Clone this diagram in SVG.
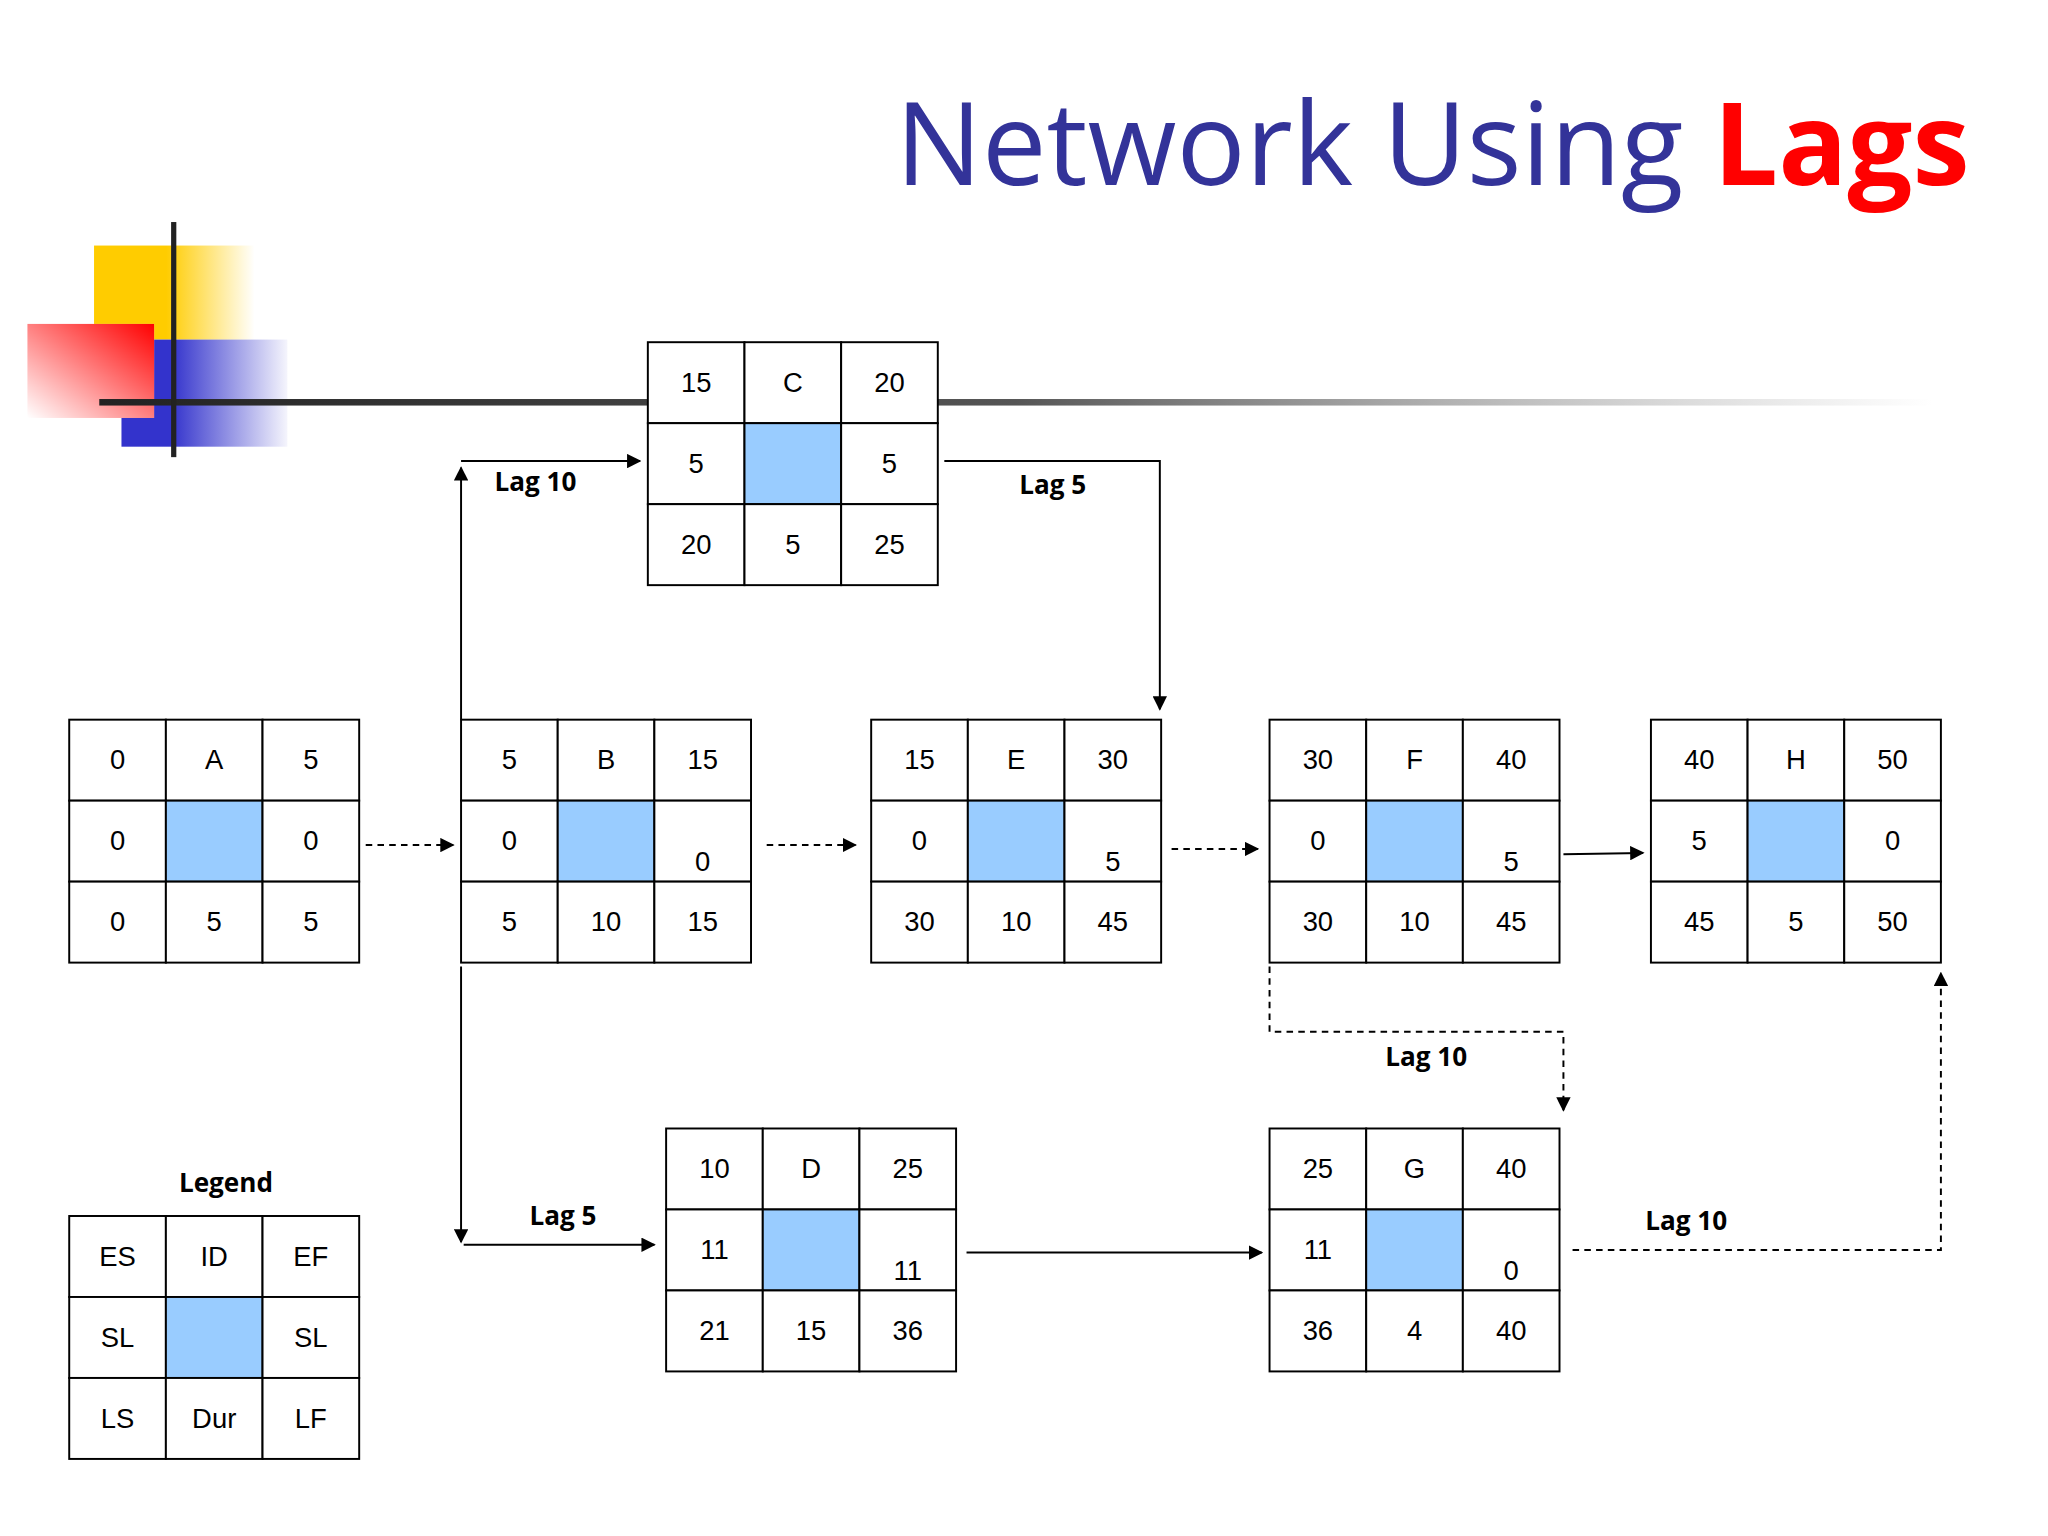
<svg xmlns="http://www.w3.org/2000/svg" width="2048" height="1536" viewBox="0 0 2048 1536">
<style>
.c{fill:#fff;stroke:#000;stroke-width:1.5}
.m{fill:#99ccff;stroke:#000;stroke-width:1.5}
.t{font-family:"Liberation Sans",Arial,sans-serif;font-size:21px;text-anchor:middle;fill:#000}
.l{font-family:"Open Sans","Noto Sans",sans-serif;font-size:20px;font-weight:bold;text-anchor:middle;fill:#000}
.s{fill:none;stroke:#000;stroke-width:1.5}
.d{fill:none;stroke:#000;stroke-width:1.5;stroke-dasharray:5,4}
</style>
<defs>
<marker id="ar" viewBox="0 0 10 10" refX="9" refY="5" markerWidth="11" markerHeight="11" markerUnits="userSpaceOnUse" orient="auto"><path d="M0,0L10,5L0,10z" fill="#000"/></marker>
<linearGradient id="gy" x1="0" x2="1"><stop offset="0.45" stop-color="#ffcc00"/><stop offset="1" stop-color="#ffcc00" stop-opacity="0"/></linearGradient>
<linearGradient id="gb" x1="0" x2="1"><stop offset="0.3" stop-color="#3333cc"/><stop offset="1" stop-color="#3333cc" stop-opacity="0.05"/></linearGradient>
<linearGradient id="gr" x1="1" y1="0" x2="0" y2="1"><stop offset="0" stop-color="#ff0000"/><stop offset="1" stop-color="#ff0000" stop-opacity="0"/></linearGradient>
<linearGradient id="gl" x1="0" x2="1"><stop offset="0" stop-color="#222"/><stop offset="0.5" stop-color="#555"/><stop offset="1" stop-color="#888" stop-opacity="0"/></linearGradient>
</defs>
<rect width="2048" height="1536" fill="#fff"/>
<g transform="scale(1.30612)">
<g id="decor">
<rect x="72" y="188" width="123" height="72" fill="url(#gy)"/>
<rect x="93" y="260" width="127" height="82" fill="url(#gb)"/>
<rect x="21" y="248" width="97" height="72" fill="#fff"/>
<rect x="21" y="248" width="97" height="72" fill="url(#gr)"/>
<rect x="76" y="305.5" width="1404" height="5" fill="url(#gl)"/>
<rect x="131" y="170" width="4" height="180" fill="#222"/>
</g>
<g id="title" font-family="'Open Sans','Noto Sans',sans-serif" font-size="88">
<text x="1508" y="142" text-anchor="end"><tspan fill="#333399">Network Using </tspan><tspan fill="#ff0000" font-weight="bold">Lags</tspan></text>
</g>
<g id="nodeC" transform="translate(496,262)">
<rect class="c" x="0" y="0" width="74" height="62"/><rect class="c" x="74" y="0" width="74" height="62"/><rect class="c" x="148" y="0" width="74" height="62"/>
<rect class="c" x="0" y="62" width="74" height="62"/><rect class="m" x="74" y="62" width="74" height="62"/><rect class="c" x="148" y="62" width="74" height="62"/>
<rect class="c" x="0" y="124" width="74" height="62"/><rect class="c" x="74" y="124" width="74" height="62"/><rect class="c" x="148" y="124" width="74" height="62"/>
<text class="t" x="37" y="38">15</text><text class="t" x="111" y="38">C</text><text class="t" x="185" y="38">20</text>
<text class="t" x="37" y="100">5</text><text class="t" x="185" y="100">5</text>
<text class="t" x="37" y="162">20</text><text class="t" x="111" y="162">5</text><text class="t" x="185" y="162">25</text>
</g>
<g id="nodeA" transform="translate(53,551)">
<rect class="c" x="0" y="0" width="74" height="62"/><rect class="c" x="74" y="0" width="74" height="62"/><rect class="c" x="148" y="0" width="74" height="62"/>
<rect class="c" x="0" y="62" width="74" height="62"/><rect class="m" x="74" y="62" width="74" height="62"/><rect class="c" x="148" y="62" width="74" height="62"/>
<rect class="c" x="0" y="124" width="74" height="62"/><rect class="c" x="74" y="124" width="74" height="62"/><rect class="c" x="148" y="124" width="74" height="62"/>
<text class="t" x="37" y="38">0</text><text class="t" x="111" y="38">A</text><text class="t" x="185" y="38">5</text>
<text class="t" x="37" y="100">0</text><text class="t" x="185" y="100">0</text>
<text class="t" x="37" y="162">0</text><text class="t" x="111" y="162">5</text><text class="t" x="185" y="162">5</text>
</g>
<g id="nodeB" transform="translate(353,551)">
<rect class="c" x="0" y="0" width="74" height="62"/><rect class="c" x="74" y="0" width="74" height="62"/><rect class="c" x="148" y="0" width="74" height="62"/>
<rect class="c" x="0" y="62" width="74" height="62"/><rect class="m" x="74" y="62" width="74" height="62"/><rect class="c" x="148" y="62" width="74" height="62"/>
<rect class="c" x="0" y="124" width="74" height="62"/><rect class="c" x="74" y="124" width="74" height="62"/><rect class="c" x="148" y="124" width="74" height="62"/>
<text class="t" x="37" y="38">5</text><text class="t" x="111" y="38">B</text><text class="t" x="185" y="38">15</text>
<text class="t" x="37" y="100">0</text><text class="t" x="185" y="116">0</text>
<text class="t" x="37" y="162">5</text><text class="t" x="111" y="162">10</text><text class="t" x="185" y="162">15</text>
</g>
<g id="nodeE" transform="translate(667,551)">
<rect class="c" x="0" y="0" width="74" height="62"/><rect class="c" x="74" y="0" width="74" height="62"/><rect class="c" x="148" y="0" width="74" height="62"/>
<rect class="c" x="0" y="62" width="74" height="62"/><rect class="m" x="74" y="62" width="74" height="62"/><rect class="c" x="148" y="62" width="74" height="62"/>
<rect class="c" x="0" y="124" width="74" height="62"/><rect class="c" x="74" y="124" width="74" height="62"/><rect class="c" x="148" y="124" width="74" height="62"/>
<text class="t" x="37" y="38">15</text><text class="t" x="111" y="38">E</text><text class="t" x="185" y="38">30</text>
<text class="t" x="37" y="100">0</text><text class="t" x="185" y="116">5</text>
<text class="t" x="37" y="162">30</text><text class="t" x="111" y="162">10</text><text class="t" x="185" y="162">45</text>
</g>
<g id="nodeF" transform="translate(972,551)">
<rect class="c" x="0" y="0" width="74" height="62"/><rect class="c" x="74" y="0" width="74" height="62"/><rect class="c" x="148" y="0" width="74" height="62"/>
<rect class="c" x="0" y="62" width="74" height="62"/><rect class="m" x="74" y="62" width="74" height="62"/><rect class="c" x="148" y="62" width="74" height="62"/>
<rect class="c" x="0" y="124" width="74" height="62"/><rect class="c" x="74" y="124" width="74" height="62"/><rect class="c" x="148" y="124" width="74" height="62"/>
<text class="t" x="37" y="38">30</text><text class="t" x="111" y="38">F</text><text class="t" x="185" y="38">40</text>
<text class="t" x="37" y="100">0</text><text class="t" x="185" y="116">5</text>
<text class="t" x="37" y="162">30</text><text class="t" x="111" y="162">10</text><text class="t" x="185" y="162">45</text>
</g>
<g id="nodeH" transform="translate(1264,551)">
<rect class="c" x="0" y="0" width="74" height="62"/><rect class="c" x="74" y="0" width="74" height="62"/><rect class="c" x="148" y="0" width="74" height="62"/>
<rect class="c" x="0" y="62" width="74" height="62"/><rect class="m" x="74" y="62" width="74" height="62"/><rect class="c" x="148" y="62" width="74" height="62"/>
<rect class="c" x="0" y="124" width="74" height="62"/><rect class="c" x="74" y="124" width="74" height="62"/><rect class="c" x="148" y="124" width="74" height="62"/>
<text class="t" x="37" y="38">40</text><text class="t" x="111" y="38">H</text><text class="t" x="185" y="38">50</text>
<text class="t" x="37" y="100">5</text><text class="t" x="185" y="100">0</text>
<text class="t" x="37" y="162">45</text><text class="t" x="111" y="162">5</text><text class="t" x="185" y="162">50</text>
</g>
<g id="nodeD" transform="translate(510,864)">
<rect class="c" x="0" y="0" width="74" height="62"/><rect class="c" x="74" y="0" width="74" height="62"/><rect class="c" x="148" y="0" width="74" height="62"/>
<rect class="c" x="0" y="62" width="74" height="62"/><rect class="m" x="74" y="62" width="74" height="62"/><rect class="c" x="148" y="62" width="74" height="62"/>
<rect class="c" x="0" y="124" width="74" height="62"/><rect class="c" x="74" y="124" width="74" height="62"/><rect class="c" x="148" y="124" width="74" height="62"/>
<text class="t" x="37" y="38">10</text><text class="t" x="111" y="38">D</text><text class="t" x="185" y="38">25</text>
<text class="t" x="37" y="100">11</text><text class="t" x="185" y="116">11</text>
<text class="t" x="37" y="162">21</text><text class="t" x="111" y="162">15</text><text class="t" x="185" y="162">36</text>
</g>
<g id="nodeG" transform="translate(972,864)">
<rect class="c" x="0" y="0" width="74" height="62"/><rect class="c" x="74" y="0" width="74" height="62"/><rect class="c" x="148" y="0" width="74" height="62"/>
<rect class="c" x="0" y="62" width="74" height="62"/><rect class="m" x="74" y="62" width="74" height="62"/><rect class="c" x="148" y="62" width="74" height="62"/>
<rect class="c" x="0" y="124" width="74" height="62"/><rect class="c" x="74" y="124" width="74" height="62"/><rect class="c" x="148" y="124" width="74" height="62"/>
<text class="t" x="37" y="38">25</text><text class="t" x="111" y="38">G</text><text class="t" x="185" y="38">40</text>
<text class="t" x="37" y="100">11</text><text class="t" x="185" y="116">0</text>
<text class="t" x="37" y="162">36</text><text class="t" x="111" y="162">4</text><text class="t" x="185" y="162">40</text>
</g>
<g id="legend" transform="translate(53,931)">
<text class="l" x="120" y="-18">Legend</text>
<rect class="c" x="0" y="0" width="74" height="62"/><rect class="c" x="74" y="0" width="74" height="62"/><rect class="c" x="148" y="0" width="74" height="62"/>
<rect class="c" x="0" y="62" width="74" height="62"/><rect class="m" x="74" y="62" width="74" height="62"/><rect class="c" x="148" y="62" width="74" height="62"/>
<rect class="c" x="0" y="124" width="74" height="62"/><rect class="c" x="74" y="124" width="74" height="62"/><rect class="c" x="148" y="124" width="74" height="62"/>
<text class="t" x="37" y="38">ES</text><text class="t" x="111" y="38">ID</text><text class="t" x="185" y="38">EF</text>
<text class="t" x="37" y="100">SL</text><text class="t" x="185" y="100">SL</text>
<text class="t" x="37" y="162">LS</text><text class="t" x="111" y="162">Dur</text><text class="t" x="185" y="162">LF</text>
</g>
<g id="connectors">
<path class="d" d="M280,647H347" marker-end="url(#ar)"/>
<path class="d" d="M587,647H655" marker-end="url(#ar)"/>
<path class="d" d="M897,650H963" marker-end="url(#ar)"/>
<path class="s" d="M1197,654L1258,653" marker-end="url(#ar)"/>
<path class="s" d="M353,551V358" marker-end="url(#ar)"/>
<path class="s" d="M353,353H490" marker-end="url(#ar)"/>
<path class="s" d="M723,353H888V543" marker-end="url(#ar)"/>
<path class="s" d="M353,740V951" marker-end="url(#ar)"/>
<path class="s" d="M355,953H501" marker-end="url(#ar)"/>
<path class="s" d="M740,959H966" marker-end="url(#ar)"/>
<path class="d" d="M972,740V790H1197V850" marker-end="url(#ar)"/>
<path class="d" d="M1204,957H1486V745" marker-end="url(#ar)"/>
<text class="l" x="410" y="376">Lag 10</text>
<text class="l" x="806" y="378">Lag 5</text>
<text class="l" x="431" y="938">Lag 5</text>
<text class="l" x="1092" y="816">Lag 10</text>
<text class="l" x="1291" y="942">Lag 10</text>
</g>
</g>
</svg>
